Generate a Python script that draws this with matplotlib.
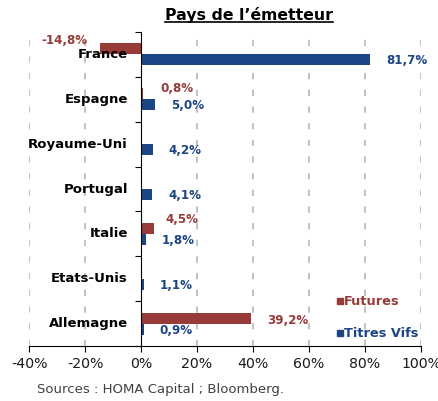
import numpy as np
import matplotlib
matplotlib.use("Agg")
import matplotlib.pyplot as plt
from matplotlib.lines import Line2D

# data
countries = ["France", "Espagne", "Royaume-Uni", "Portugal", "Italie", "Etats-Unis", "Allemagne"]
futures = [-14.8, 0.8, np.nan, np.nan, 4.5, np.nan, 39.2]
titres_vifs = [81.7, 5.0, 4.2, 4.1, 1.8, 1.1, 0.9]
xticks = [-40, -20, 0, 20, 40, 60, 80, 100]

red = "#963b38"
blue = "#1b4584"

# manual label nudges for futures labels (pixels)
fut_offsets = [(-12, 8), (17, 5), None, None, (12, 9), None, (16, -2)]


def fmt(v):
    return f"{v:.1f}%".replace(".", ",")


fig = plt.figure(figsize=(4.39, 4.01), dpi=100)
ax = fig.add_axes([29 / 439, 1 - 346 / 401, 392 / 439, 314 / 401])

y = np.arange(len(countries))
h = 0.245
ax.barh(y - h / 2, futures, height=h, color=red, zorder=3)
ax.barh(y + h / 2, titres_vifs, height=h, color=blue, zorder=3)

ax.set_xlim(-40, 100)
ax.set_ylim(len(countries) - 0.5, -0.5)

# grid
for xv in xticks:
    if xv != 0:
        ax.axvline(xv, color="#c4c4c4", lw=1.5, ls=(0, (3, 5)), zorder=1)

# spines
ax.spines["top"].set_visible(False)
ax.spines["right"].set_visible(False)
ax.spines["left"].set_position(("data", 0))
ax.spines["left"].set_zorder(4)

ax.set_xticks(xticks)
ax.set_xticklabels([f"{v}%" for v in xticks], fontsize=10.2, color="#1a1a1a")
ax.tick_params(axis="x", direction="out", length=4, pad=4)
ax.set_yticks(np.arange(len(countries) + 1) - 0.5)
ax.set_yticklabels([])
ax.tick_params(axis="y", direction="out", length=4)

# category labels
for i, c in enumerate(countries):
    ax.annotate(c, (0, i), xytext=(-13, 0), textcoords="offset pixels",
                ha="right", va="center", fontsize=9.5, fontweight="bold", color="black")

# value labels
for i, v in enumerate(titres_vifs):
    ax.annotate(fmt(v), (v, i + h / 2), xytext=(16, -1), textcoords="offset pixels",
                ha="left", va="center", fontsize=8.6, fontweight="bold", color=blue)

for i, v in enumerate(futures):
    if np.isnan(v):
        continue
    dx, dy = fut_offsets[i]
    ha = "right" if v < 0 else "left"
    ax.annotate(fmt(v), (v, i - h / 2), xytext=(dx, dy), textcoords="offset pixels",
                ha=ha, va="center", fontsize=8.6, fontweight="bold", color=red)

# legend
handles = [Line2D([0], [0], marker="s", ls="none", color=red, markersize=4),
           Line2D([0], [0], marker="s", ls="none", color=blue, markersize=4)]
leg = ax.legend(handles, ["Futures", "Titres Vifs"], loc="upper left",
                bbox_to_anchor=(330 / 439, 1 - 289 / 401), bbox_transform=fig.transFigure,
                frameon=False, handlelength=0.5, handletextpad=0.1, labelspacing=1.45,
                borderpad=0, prop={"size": 9.3, "weight": "bold"})
for t, col in zip(leg.get_texts(), [red, blue]):
    t.set_color(col)

# title with underline
title = fig.text(249 / 439, 1 - 15 / 401, "Pays de l\u2019émetteur", ha="center", va="center",
                 fontsize=11.3, fontweight="bold", color="black")
fig.canvas.draw()
bb = title.get_window_extent().transformed(fig.transFigure.inverted())
fig.add_artist(Line2D([bb.x0, bb.x1], [bb.y0 + 0.002, bb.y0 + 0.002],
                      transform=fig.transFigure, color="black", lw=1.2))

fig.text(37 / 439, 1 - 389 / 401, "Sources : HOMA Capital ; Bloomberg.", ha="left", va="center",
         fontsize=9.5, color="#404040")

fig.savefig("out.png", dpi=100)
